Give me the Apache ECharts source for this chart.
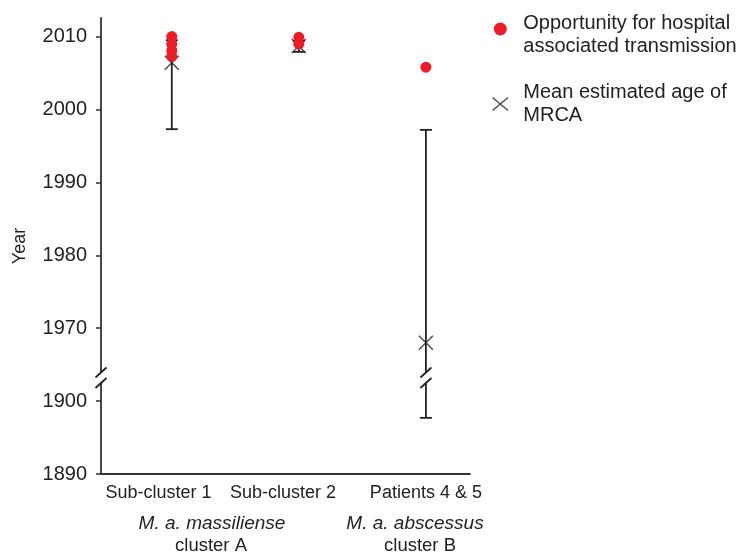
<!DOCTYPE html>
<html><head><meta charset="utf-8">
<script src="https://cdn.jsdelivr.net/npm/echarts@6/dist/echarts.min.js"></script>
<style>html,body{margin:0;padding:0;background:#fff}#c{width:737px;height:557px}</style>
</head><body><div id="c"></div><script>
// ---- data ----
const categories = ['Sub-cluster 1', 'Sub-cluster 2', 'Patients 4 & 5'];
const groupNames = ['M. a. massiliense', 'M. a. abscessus'];
const groupSub = ['cluster A', 'cluster B'];
const hospitalYears = [[2010.0, 2009.0, 2008.1, 2007.3], [2009.9, 2009.0], [2005.8]];
const mrcaMean = [2006.4, 2008.7, 1968.0];
const mrcaLow = [1997.3, 2007.9, 1897.7];
const mrcaHigh = [2009.5, 2009.4, 1997.2];
const yTickLabels = [1890, 1900, 1970, 1980, 1990, 2000, 2010];
const seriesNames = ['Opportunity for hospital\nassociated transmission', 'Mean estimated age of\nMRCA'];

// ---- broken axis mapping (lower segment 1890-1900 shifted up to sit under 1970) ----
const SHIFT = 60;
const toAxis = y => (y < 1930 ? y + SHIFT : y);
const fromAxis = v => (v < 1965 ? v - SHIFT : v);
const BREAK = 1963.2;

// ---- layout ----
const X_MIN = 0.443, X_MAX = 3.347;
const labelPos = [0.896, 1.876, 3.0];
const RED = '#ED1C24', INK = '#222';
const FONT = '"Liberation Sans", Arial, sans-serif';

const hospData = [];
hospitalYears.forEach((arr, i) => arr.forEach(y => hospData.push([i + 1, toAxis(y)])));
const meanData = mrcaMean.map((y, i) => [i + 1, toAxis(y)]);
const errData = mrcaMean.map((y, i) => [i + 1, toAxis(mrcaLow[i]), toAxis(mrcaHigh[i])]);

function seg(x1, y1, x2, y2) {
  return { type: 'line', shape: { x1, y1, x2, y2 }, style: { stroke: INK, lineWidth: 1.8 } };
}
function slashes(cx, cy) {
  return [seg(cx - 5.5, cy - 5.25 + 5, cx + 5.5, cy - 5.25 - 5), seg(cx - 5.5, cy + 5.25 + 5, cx + 5.5, cy + 5.25 - 5)];
}
function renderErr(params, api) {
  const x = api.value(0), lo = api.value(1), hi = api.value(2);
  const pLo = api.coord([x, lo]), pHi = api.coord([x, hi]);
  const cx = pLo[0];
  const ch = [];
  if (lo < BREAK && hi > BREAK) {
    const pb = api.coord([x, BREAK])[1];
    ch.push(seg(cx, pHi[1], cx, pb - 5.25), seg(cx, pb + 5.25, cx, pLo[1]));
    ch.push(...slashes(cx, pb));
  } else {
    ch.push(seg(cx, pHi[1], cx, pLo[1]));
  }
  ch.push(seg(cx - 6, pLo[1], cx + 6, pLo[1]), seg(cx - 6, pHi[1], cx + 6, pHi[1]));
  return { type: 'group', children: ch };
}
function renderAxisBreak(params, api) {
  const p = api.coord([api.value(0), api.value(1)]);
  return {
    type: 'group', children: [
      { type: 'rect', shape: { x: p[0] - 3, y: p[1] - 5, width: 6, height: 10 }, style: { fill: '#fff' } },
      ...slashes(p[0], p[1])
    ]
  };
}

const chart = echarts.init(document.getElementById('c'), null, { renderer: 'canvas' });
chart.setOption({
  backgroundColor: '#fff',
  animation: false,
  textStyle: { fontFamily: FONT },
  grid: { left: 101, right: 267, top: 18, bottom: 83, containLabel: false, outerBoundsMode: 'none' },
  legend: {
    orient: 'vertical', left: 485, top: -5,
    itemWidth: 36, itemHeight: 13, itemGap: 23,
    textStyle: {
      fontSize: 20, lineHeight: 23, color: INK, fontFamily: FONT,
      rich: { s: { fontSize: 1, lineHeight: 12 } }
    },
    formatter: name => (name === seriesNames[0] ? '{s| }\n' + name : name),
    data: [
      { name: seriesNames[0], icon: 'circle', itemStyle: { color: RED } },
      { name: seriesNames[1], icon: 'path://M0,0L12,10M12,0L0,10', itemStyle: { color: 'none', borderColor: INK, borderWidth: 1.5 } }
    ]
  },
  xAxis: {
    type: 'value', min: X_MIN, max: X_MAX,
    splitLine: { show: false },
    axisLine: { lineStyle: { color: '#333', width: 1.8 } },
    axisTick: { show: false },
    axisLabel: {
      customValues: labelPos, margin: 10, fontSize: 18, color: INK, fontFamily: FONT,
      formatter: v => {
        let best = 0;
        labelPos.forEach((p, i) => { if (Math.abs(p - v) < Math.abs(labelPos[best] - v)) best = i; });
        return categories[best];
      }
    }
  },
  yAxis: {
    type: 'value', min: toAxis(1890), max: 2012.55,
    name: 'Year', nameLocation: 'middle', nameGap: 72,
    nameTextStyle: { fontSize: 18, color: INK, fontFamily: FONT },
    splitLine: { show: false },
    axisLine: { show: true, lineStyle: { color: '#333', width: 1.8 } },
    axisTick: { show: true, length: 5, customValues: yTickLabels.map(toAxis), lineStyle: { color: '#333', width: 1.5 } },
    axisLabel: {
      customValues: yTickLabels.map(toAxis), margin: 14, fontSize: 20, color: INK, fontFamily: FONT,
      formatter: v => String(Math.round(fromAxis(v)))
    }
  },
  graphic: [
    { type: 'text', style: { text: groupNames[0], x: 212, y: 524, textAlign: 'center', textVerticalAlign: 'middle', font: 'italic 19px ' + FONT, fill: INK } },
    { type: 'text', style: { text: groupSub[0], x: 211, y: 546, textAlign: 'center', textVerticalAlign: 'middle', font: '18.5px ' + FONT, fill: INK } },
    { type: 'text', style: { text: groupNames[1], x: 415, y: 524, textAlign: 'center', textVerticalAlign: 'middle', font: 'italic 19px ' + FONT, fill: INK } },
    { type: 'text', style: { text: groupSub[1], x: 420, y: 546, textAlign: 'center', textVerticalAlign: 'middle', font: '18.5px ' + FONT, fill: INK } }
  ],
  series: [
    { type: 'custom', name: 'axisBreak', silent: true, clip: false, z: 5, renderItem: renderAxisBreak, data: [[X_MIN, BREAK]] },
    { type: 'custom', name: 'errorBars', silent: true, clip: false, z: 3, renderItem: renderErr, encode: { x: 0, y: [1, 2] }, data: errData },
    {
      type: 'scatter', name: seriesNames[1], z: 4, symbol: 'path://M0,0L10,10M10,0L0,10', symbolSize: 14,
      itemStyle: { color: 'none', borderColor: INK, borderWidth: 1.5 }, data: meanData
    },
    { type: 'scatter', name: seriesNames[0], z: 6, symbol: 'circle', symbolSize: 11, itemStyle: { color: RED, opacity: 1 }, data: hospData }
  ]
});
</script></body></html>
